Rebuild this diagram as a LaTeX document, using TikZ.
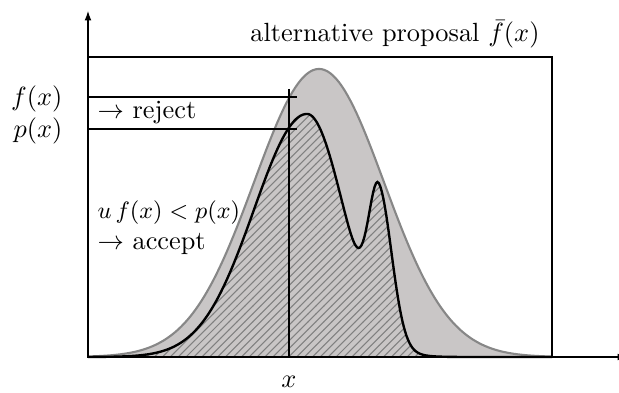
\documentclass[tikz,border=0pt]{standalone}
\usetikzlibrary{arrows.meta,patterns}
\definecolor{fillgray}{RGB}{201,198,198}
\definecolor{edgegray}{RGB}{135,135,135}
\definecolor{hatchgray}{RGB}{128,128,128}
\begin{document}
\begin{tikzpicture}[x=0.38pt,y=-0.38pt,
  declare function={
    gau(\t,\m,\s)=exp(max(-20,-0.5*((\t-\m)/\s)^2));
    fbar(\t)=288*gau(\t,319,65);
    pp(\t)=((\t<307) ? 243*gau(\t,307,53) : 243*gau(\t,307,37))
          + ((\t<379) ? 137*gau(\t,379,10) : 137*gau(\t,379,13));
  },
  axisline/.style={line width=0.4pt,-{Latex[length=3.6pt,width=2.6pt]}},
  thinline/.style={line width=0.4pt},
  crossarm/.style={line width=0.8pt},
  lbl/.style={inner sep=0pt}]
\useasboundingbox (0,0) rectangle (619,393);
\coordinate (O) at (88,357);
\coordinate (BR) at (552,357);
\coordinate (TL) at (88,57);
\coordinate (ytip) at (88,11);
\coordinate (xtip) at (627,357);
\coordinate (xb) at (289,357);
\coordinate (xt) at (289,89);
\coordinate (F) at (289,97);
\coordinate (P) at (289,129);
\coordinate (FL) at (88,97);
\coordinate (PL) at (88,129);

% proposal fill
\fill[fillgray] (O) -- plot[domain=88:552,samples=160] (\x,{357-fbar(\x)}) -- (BR) -- cycle;
% target hatched
\fill[pattern=north east lines, pattern color=hatchgray] (O) -- plot[domain=88:552,samples=320] (\x,{357-pp(\x)}) -- (BR) -- cycle;
% outlines
\draw[edgegray,line width=0.8pt] plot[domain=88:552,samples=160] (\x,{357-fbar(\x)});
\draw[black,line width=0.9pt] plot[domain=88:552,samples=320] (\x,{357-pp(\x)});

% box
\draw[line width=0.9pt] (TL) rectangle (BR);
% axes
\draw[axisline] (O) -- (ytip);
\draw[axisline] (O) -- (xtip);

% sample lines
\draw[thinline] (xb) -- (xt);
\draw[thinline] (FL) -- (F);
\draw[thinline] (PL) -- (P);
\draw[crossarm] ([xshift=-8*0.38pt]F) -- ([xshift=8*0.38pt]F);
\draw[crossarm] ([yshift=8*0.38pt]F) -- ([yshift=-8*0.38pt]F);
\draw[crossarm] ([xshift=-8*0.38pt]P) -- ([xshift=8*0.38pt]P);
\draw[crossarm] ([yshift=8*0.38pt]P) -- ([yshift=-8*0.38pt]P);

% labels
\node[lbl,anchor=base east] (lf) at (63,106) {$f(x)$};
\node[lbl,anchor=base east] (lp) at (63,138) {$p(x)$};
\node[lbl,anchor=base west] (rej) at (97,119) {$\rightarrow$ reject};
\node[lbl,anchor=base west] (cond) at (97,219) {\small $u\,f(x) < p(x)$};
\node[lbl,anchor=base west] (acc) at (97,250) {$\rightarrow$ accept};
\node[lbl,anchor=base] (lx) at (289,387) {$x$};
\node[lbl,anchor=base east] (alt) at (540,42) {alternative proposal $\bar f(x)$};
\end{tikzpicture}
\end{document}
